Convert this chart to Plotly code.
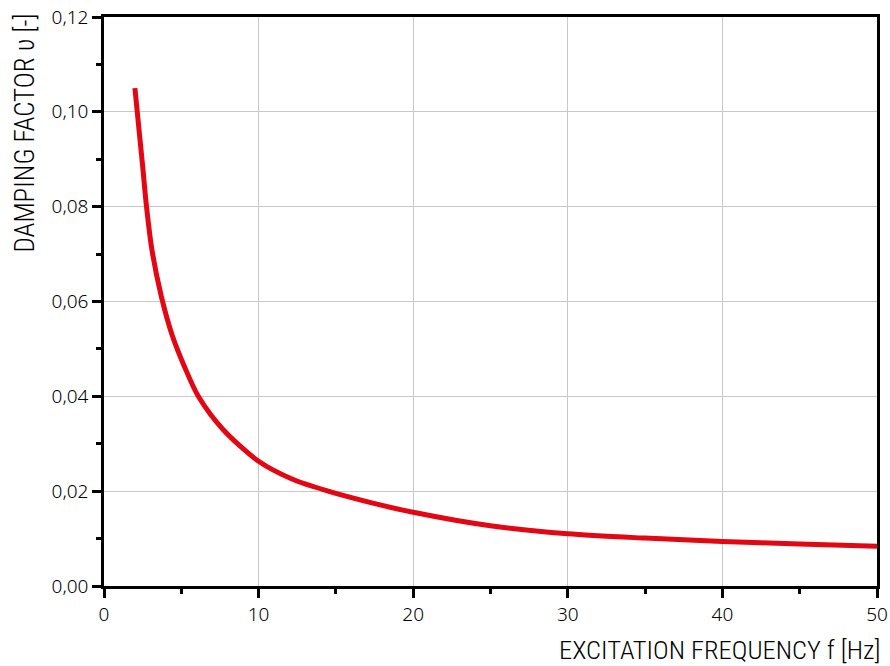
import plotly.graph_objects as go

frequency = [2, 2.15, 2.5, 2.75, 3.1, 3.7, 4.4, 5.2, 6.1, 7.7, 10,
             12.2, 14.5, 17, 20, 25, 30, 35, 40, 45, 50]
damping = [0.105, 0.100, 0.0885, 0.080, 0.0709, 0.0612, 0.0530, 0.0463, 0.0400, 0.0330, 0.0263,
           0.0225, 0.0200, 0.0178, 0.01555, 0.0127, 0.0110, 0.0101, 0.0094, 0.00885, 0.0084]

x_ticks = [0, 10, 20, 30, 40, 50]
y_ticks = [0.00, 0.02, 0.04, 0.06, 0.08, 0.10, 0.12]

TITLE_FONT = "Liberation Sans Narrow, Roboto Condensed, Arial Narrow, sans-serif"
TICK_FONT = "Noto Sans, Open Sans, sans-serif"

fig = go.Figure()
fig.add_trace(go.Scatter(
    x=frequency, y=damping, mode="lines",
    line=dict(color="#e30613", width=5, shape="spline", smoothing=0.8),
    hoverinfo="skip", showlegend=False,
))

W, H = 890, 666
L, R, T, B = 104, 13, 17, 80

fig.update_layout(
    width=W, height=H,
    margin=dict(l=L, r=R, t=T, b=B, autoexpand=False),
    paper_bgcolor="white", plot_bgcolor="white",
    separators=", ",
    font=dict(family=TICK_FONT, size=19, color="black"),
    xaxis=dict(
        range=[0, 50], tickvals=x_ticks, tickformat="d", automargin=False,
        showline=True, linecolor="black", linewidth=2.5, mirror=True,
        ticks="outside", ticklen=9, tickwidth=2.5, tickcolor="black",
        minor=dict(dtick=5, ticks="outside", ticklen=5, tickwidth=2.5,
                   tickcolor="black", showgrid=False),
        showgrid=True, gridcolor="#c8c8c8", gridwidth=1,
        zeroline=False, tickfont=dict(family=TICK_FONT, size=19, weight=300, color="black"),
    ),
    yaxis=dict(
        range=[0, 0.12], tickvals=y_ticks, tickformat=".2f", automargin=False,
        showline=True, linecolor="black", linewidth=2.5, mirror=True,
        ticks="outside", ticklen=9, tickwidth=2.5, tickcolor="black",
        minor=dict(dtick=0.01, ticks="outside", ticklen=5, tickwidth=2.5,
                   tickcolor="black", showgrid=False),
        showgrid=True, gridcolor="#c8c8c8", gridwidth=1,
        zeroline=False, tickfont=dict(family=TICK_FONT, size=19, weight=300, color="black"),
    ),
)

plot_w = W - L - R
plot_h = H - T - B

fig.add_annotation(
    text="EXCITATION FREQUENCY f [Hz]", xref="paper", yref="paper",
    x=(882 - L) / plot_w, y=-(632 - (H - B)) / plot_h,
    xanchor="right", yanchor="top", showarrow=False,
    font=dict(family=TITLE_FONT, size=26.5, color="black", weight=300),
)
fig.add_annotation(
    text="DAMPING FACTOR υ [-]", xref="paper", yref="paper",
    x=-(L - 7) / plot_w, y=(H - B - 12) / plot_h,
    xanchor="left", yanchor="top", textangle=-90, showarrow=False,
    font=dict(family=TITLE_FONT, size=27, color="black", weight=300),
)

fig.write_html("out.html")
